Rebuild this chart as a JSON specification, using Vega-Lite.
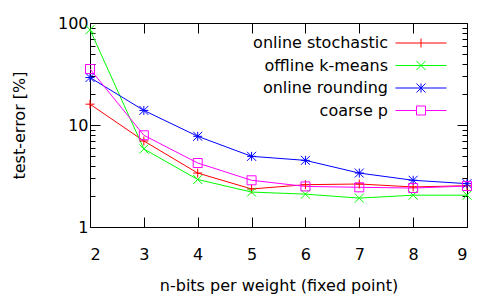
{
  "$schema": "https://vega.github.io/schema/vega-lite/v6.json",
  "width": 377,
  "height": 204,
  "autosize": {"type": "none"},
  "padding": {"left": 90, "top": 23, "right": 31, "bottom": 72},
  "background": "white",
  "config": {
    "view": {"stroke": null},
    "font": "DejaVu Sans",
    "axis": {
      "labelFont": "DejaVu Sans",
      "labelFontSize": 16,
      "labelColor": "black",
      "titleFont": "DejaVu Sans",
      "titleFontSize": 16,
      "titleFontWeight": "normal",
      "titleColor": "black",
      "domainColor": "black",
      "domainWidth": 1,
      "tickColor": "black",
      "tickWidth": 1,
      "grid": false
    },
    "legend": {
      "labelFont": "DejaVu Sans",
      "labelFontSize": 16,
      "labelColor": "black"
    }
  },
  "data": {
    "values": [
      {"bits": 2, "series": "online stochastic", "err": 16.0},
      {"bits": 3, "series": "online stochastic", "err": 6.97},
      {"bits": 4, "series": "online stochastic", "err": 3.38},
      {"bits": 5, "series": "online stochastic", "err": 2.36},
      {"bits": 6, "series": "online stochastic", "err": 2.6},
      {"bits": 7, "series": "online stochastic", "err": 2.64},
      {"bits": 8, "series": "online stochastic", "err": 2.47},
      {"bits": 9, "series": "online stochastic", "err": 2.54},
      {"bits": 2, "series": "offline k-means", "err": 86},
      {"bits": 3, "series": "offline k-means", "err": 5.82},
      {"bits": 4, "series": "offline k-means", "err": 2.92},
      {"bits": 5, "series": "offline k-means", "err": 2.2},
      {"bits": 6, "series": "offline k-means", "err": 2.1},
      {"bits": 7, "series": "offline k-means", "err": 1.92},
      {"bits": 8, "series": "offline k-means", "err": 2.05},
      {"bits": 9, "series": "offline k-means", "err": 2.05},
      {"bits": 2, "series": "online rounding", "err": 29.2},
      {"bits": 3, "series": "online rounding", "err": 13.9},
      {"bits": 4, "series": "online rounding", "err": 7.75},
      {"bits": 5, "series": "online rounding", "err": 4.93},
      {"bits": 6, "series": "online rounding", "err": 4.5},
      {"bits": 7, "series": "online rounding", "err": 3.38},
      {"bits": 8, "series": "online rounding", "err": 2.87},
      {"bits": 9, "series": "online rounding", "err": 2.66},
      {"bits": 2, "series": "coarse p", "err": 35.4},
      {"bits": 3, "series": "coarse p", "err": 7.93},
      {"bits": 4, "series": "coarse p", "err": 4.24},
      {"bits": 5, "series": "coarse p", "err": 2.87},
      {"bits": 6, "series": "coarse p", "err": 2.5},
      {"bits": 7, "series": "coarse p", "err": 2.45},
      {"bits": 8, "series": "coarse p", "err": 2.41},
      {"bits": 9, "series": "coarse p", "err": 2.52}
    ]
  },
  "resolve": {"axis": {"x": "independent", "y": "independent"}},
  "layer": [
    {
      "mark": {"type": "line", "strokeWidth": 1, "clip": true},
      "encoding": {
        "x": {
          "field": "bits", "type": "quantitative",
          "scale": {"domain": [2, 9], "nice": false, "zero": false},
          "axis": {
            "orient": "bottom",
            "values": [2, 3, 4, 5, 6, 7, 8, 9],
            "tickSize": -10,
            "labelPadding": 29,
            "labelDx": 2,
            "title": "n-bits per weight (fixed point)",
            "titleBaseline": "alphabetic",
            "titleY": 63
          }
        },
        "y": {
          "field": "err", "type": "quantitative",
          "scale": {"type": "log", "domain": [1, 100], "nice": false},
          "axis": {
            "orient": "left",
            "values": [1, 2, 3, 4, 5, 6, 7, 8, 9, 10, 20, 30, 40, 50, 60, 70, 80, 90, 100],
            "labelExpr": "(datum.value == 1 || datum.value == 10 || datum.value == 100) ? format(datum.value, 'd') : ''",
            "tickSize": {"condition": {"test": "datum.value == 1 || datum.value == 10 || datum.value == 100", "value": -10}, "value": -5},
            "labelPadding": 12,
            "title": "test-error [%]",
            "titleBaseline": "alphabetic",
            "titleX": -66,
            "titleY": 102,
            "titleAlign": "center"
          }
        },
        "color": {
          "field": "series", "type": "nominal",
          "scale": {
            "domain": ["online stochastic", "offline k-means", "online rounding", "coarse p"],
            "range": ["#ff0000", "#00ff00", "#0000ff", "#ff00ff"]
          },
          "legend": {
            "title": null,
            "orient": "none",
            "legendX": 323,
            "legendY": 12,
            "padding": 0,
            "labelAlign": "right",
            "labelOffset": -41,
            "rowPadding": 6.5,
            "symbolSize": 100,
            "symbolStrokeWidth": 1,
            "symbolFillColor": "transparent"
          }
        }
      }
    },
    {
      "transform": [{"filter": "false"}],
      "mark": {"type": "point", "filled": false, "strokeWidth": 1, "opacity": 1},
      "encoding": {
        "x": {
          "field": "bits", "type": "quantitative",
          "axis": {
            "orient": "top",
            "values": [2, 3, 4, 5, 6, 7, 8, 9],
            "tickSize": -10,
            "labels": false,
            "title": null
          }
        },
        "y": {
          "field": "err", "type": "quantitative",
          "axis": {
            "orient": "right",
            "values": [1, 2, 3, 4, 5, 6, 7, 8, 9, 10, 20, 30, 40, 50, 60, 70, 80, 90, 100],
            "tickSize": {"condition": {"test": "datum.value == 1 || datum.value == 10 || datum.value == 100", "value": -10}, "value": -5},
            "labels": false,
            "title": null
          }
        },
        "color": {"field": "series", "type": "nominal"},
        "shape": {
          "field": "series", "type": "nominal",
          "scale": {
            "domain": ["online stochastic", "offline k-means", "online rounding", "coarse p"],
            "range": [
              "M-5.1,0H5.1M0,-0.9V0.9",
              "M-5.1,0H5.1M-0.9,-0.9L0.9,0.9M-0.9,0.9L0.9,-0.9",
              "M-5.1,0H5.1M0,-0.9V0.9M-0.9,-0.9L0.9,0.9M-0.9,0.9L0.9,-0.9",
              "M-5.1,0H-0.9M0.9,0H5.1M-0.9,-0.9H0.9V0.9H-0.9Z"
            ]
          }
        }
      }
    },
    {
      "transform": [{"filter": "datum.series == 'online stochastic'"}],
      "mark": {"type": "point", "filled": false, "strokeWidth": 1, "opacity": 1, "size": 81, "shape": "M-1,0H1M0,-1V1"},
      "encoding": {
        "x": {"field": "bits", "type": "quantitative", "axis": null},
        "y": {"field": "err", "type": "quantitative", "axis": null},
        "color": {"field": "series", "type": "nominal"}
      }
    },
    {
      "transform": [{"filter": "datum.series == 'offline k-means'"}],
      "mark": {"type": "point", "filled": false, "strokeWidth": 1, "opacity": 1, "size": 81, "shape": "M-1,-1L1,1M-1,1L1,-1"},
      "encoding": {
        "x": {"field": "bits", "type": "quantitative", "axis": null},
        "y": {"field": "err", "type": "quantitative", "axis": null},
        "color": {"field": "series", "type": "nominal"}
      }
    },
    {
      "transform": [{"filter": "datum.series == 'online rounding'"}],
      "mark": {"type": "point", "filled": false, "strokeWidth": 1, "opacity": 1, "size": 81, "shape": "M-1,0H1M0,-1V1M-1,-1L1,1M-1,1L1,-1"},
      "encoding": {
        "x": {"field": "bits", "type": "quantitative", "axis": null},
        "y": {"field": "err", "type": "quantitative", "axis": null},
        "color": {"field": "series", "type": "nominal"}
      }
    },
    {
      "transform": [{"filter": "datum.series == 'coarse p'"}],
      "mark": {"type": "point", "filled": false, "strokeWidth": 1, "opacity": 1, "size": 81, "shape": "M-1,-1H1V1H-1Z"},
      "encoding": {
        "x": {"field": "bits", "type": "quantitative", "axis": null},
        "y": {"field": "err", "type": "quantitative", "axis": null},
        "color": {"field": "series", "type": "nominal"}
      }
    }
  ]
}
